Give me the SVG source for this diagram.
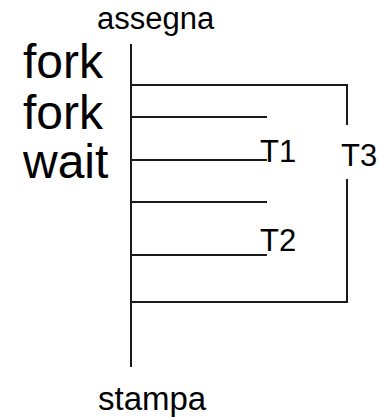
<svg xmlns="http://www.w3.org/2000/svg" width="380" height="417" viewBox="0 0 380 417">
  <style>
    .ln { stroke: #1a1a1a; stroke-width: 2; fill: none; stroke-linecap: butt; }
    .big { font-family: "Liberation Sans", Arial, sans-serif; font-size: 48px; fill: #000; }
    .lbl { font-family: "Liberation Sans", Arial, sans-serif; font-size: 31px; fill: #000; }
  </style>
  <rect width="380" height="417" fill="#fff"/>

  <!-- thread timeline: fork/join structure -->
  <g id="connectors">
    <line class="ln" x1="131" y1="44" x2="131" y2="367"/>
    <!-- T3 branch -->
    <polyline class="ln" points="131,85 347,85 347,125"/>
    <polyline class="ln" points="347,179 347,302 131,302"/>
    <!-- T1 branch -->
    <line class="ln" x1="131" y1="117" x2="267" y2="117"/>
    <line class="ln" x1="131" y1="160" x2="267" y2="160"/>
    <!-- T2 branch -->
    <line class="ln" x1="131" y1="202" x2="267" y2="202"/>
    <line class="ln" x1="131" y1="255" x2="267" y2="255"/>
  </g>

  <g id="assegna"><text class="lbl" x="97" y="29">assegna</text></g>
  <g id="fork1"><text class="big" x="23" y="78">fork</text></g>
  <g id="fork2"><text class="big" x="23" y="129">fork</text></g>
  <g id="wait"><text class="big" x="23" y="178">wait</text></g>
  <g id="T1"><text class="lbl" x="260" y="162">T1</text></g>
  <g id="T3"><text class="lbl" x="341" y="166">T3</text></g>
  <g id="T2"><text class="lbl" x="260" y="251">T2</text></g>
  <g id="stampa"><text class="lbl" x="98" y="410" style="font-size:33px">stampa</text></g>
</svg>
